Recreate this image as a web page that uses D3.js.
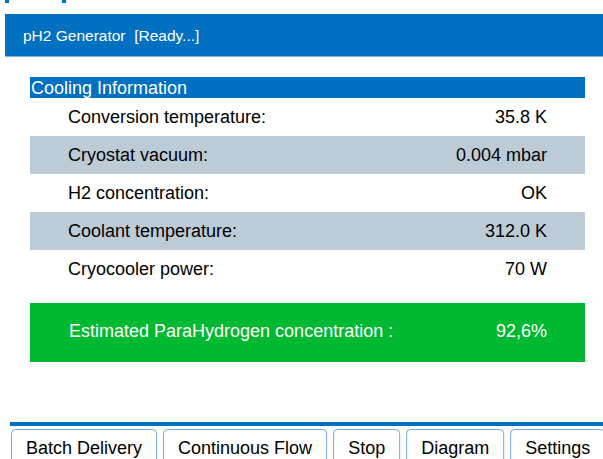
<!DOCTYPE html>
<html>
<head>
<meta charset="utf-8">
<script src="https://cdn.jsdelivr.net/npm/d3@7"></script>
<style>
  html, body { margin: 0; padding: 0; background: #fff; }
  svg text { font-family: "Liberation Sans", Arial, sans-serif; white-space: pre; }
</style>
</head>
<body>
<div id="panel"></div>
<script>
// status screen values
const title = "pH2 Generator  [Ready...]";
const sectionTitle = "Cooling Information";
const rowLabels = ["Conversion temperature:", "Cryostat vacuum:", "H2 concentration:", "Coolant temperature:", "Cryocooler power:"];
const rowValues = ["35.8 K", "0.004 mbar", "OK", "312.0 K", "70 W"];
const estimateLabel = "Estimated ParaHydrogen concentration :";
const estimateValue = "92,6%";
const tabLabels = ["Batch Delivery", "Continuous Flow", "Stop", "Diagram", "Settings"];

var width = 603, height = 459;
var blue = "#0070c0", grey = "#bdcbd7", green = "#00b932", tabEdge = "#6fa8dc";

var svg = d3.select("#panel")
   .append("svg")
   .attr("width", width)
   .attr("height", height);

// scraps of something cut off above the screen
svg.append("rect").attr("x", 5).attr("y", 0).attr("width", 4).attr("height", 3).attr("fill", blue);
svg.append("rect").attr("x", 62).attr("y", 0).attr("width", 4).attr("height", 3).attr("fill", blue);

// title bar
svg.append("rect")
    .attr("x", 5).attr("y", 14)
    .attr("width", width - 5).attr("height", 42)
    .attr("fill", blue);
svg.append("rect")
    .attr("x", 5).attr("y", 56)
    .attr("width", width - 5).attr("height", 1)
    .attr("fill", "#7fb3de");
svg.append("text")
    .text(title)
    .attr("x", 23).attr("y", 41)
    .attr("fill", "white")
    .style("font-size", "15.5px");

// table
var left = 30, right = 585, fs = "18px";
svg.append("rect")
    .attr("x", left).attr("y", 77)
    .attr("width", right - left).attr("height", 21)
    .attr("fill", blue);
svg.append("text")
    .text(sectionTitle)
    .attr("x", 31).attr("y", 94)
    .attr("fill", "white")
    .style("font-size", fs);

var y = d3.scaleBand()
    .domain(rowLabels)
    .range([98, 288]);

var rows = svg.selectAll(".row")
    .data(rowLabels)
    .enter()
    .append("g")
    .attr("class", "row")
    .attr("transform", d => "translate(0," + y(d) + ")");
rows.append("rect")
    .attr("x", left)
    .attr("width", right - left)
    .attr("height", y.bandwidth())
    .attr("fill", (d, i) => i % 2 ? grey : "white");
rows.append("text")
    .text(d => d)
    .attr("x", 68)
    .attr("y", y.bandwidth() / 2)
    .attr("dy", "0.36em")
    .style("font-size", fs);
rows.append("text")
    .text((d, i) => rowValues[i])
    .attr("x", 547)
    .attr("y", y.bandwidth() / 2)
    .attr("dy", "0.36em")
    .attr("text-anchor", "end")
    .style("font-size", fs);

// estimate box
svg.append("rect")
    .attr("x", left).attr("y", 303)
    .attr("width", right - left).attr("height", 59)
    .attr("fill", green);
svg.append("text")
    .text(estimateLabel)
    .attr("x", 69).attr("y", 331)
    .attr("dy", "0.36em")
    .attr("fill", "white")
    .style("font-size", fs);
svg.append("text")
    .text(estimateValue)
    .attr("x", 547).attr("y", 331)
    .attr("dy", "0.36em")
    .attr("text-anchor", "end")
    .attr("fill", "white")
    .style("font-size", fs);

// bottom tabs
svg.append("rect")
    .attr("x", 10).attr("y", 422)
    .attr("width", width - 10).attr("height", 4)
    .attr("fill", blue);

var pad = 15, gap = 6, tx = 11;
tabLabels.forEach(function(label) {
    var t = svg.append("text")
        .text(label)
        .attr("y", 454)
        .style("font-size", "18px");
    var w = t.node().getComputedTextLength() + 2 * pad;
    t.attr("x", tx + pad);
    svg.append("path")
        .attr("d", "M" + (tx + 0.5) + "," + (height + 2) + "V" + 433.5 +
              "q0,-4 4,-4H" + (tx + w - 4.5) + "q4,0 4,4V" + (height + 2))
        .attr("fill", "none")
        .attr("stroke", tabEdge)
        .attr("stroke-width", 1);
    tx += w + gap;
});
</script>
</body>
</html>
